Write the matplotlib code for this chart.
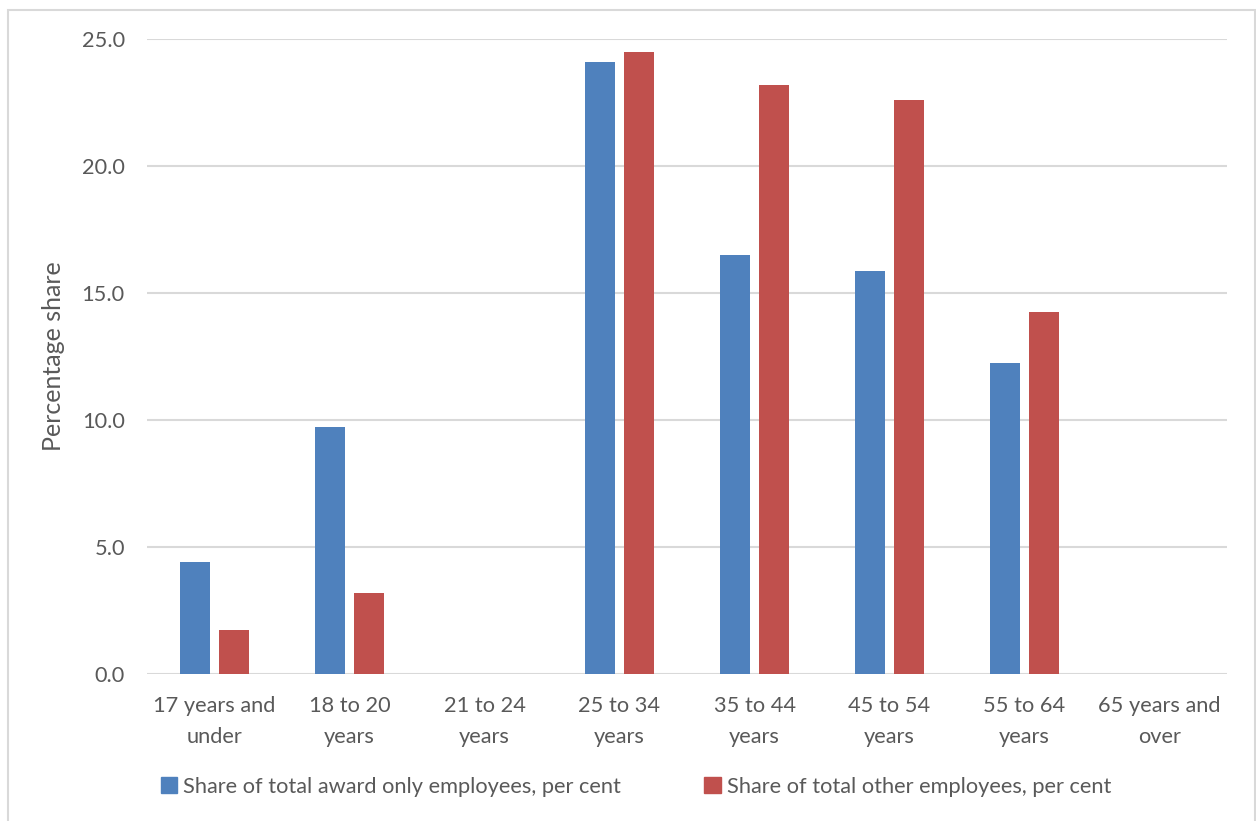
import matplotlib
matplotlib.use("Agg")
import matplotlib.pyplot as plt
import numpy as np
from matplotlib.patches import Rectangle, Patch

# data
categories = ["17 years and\nunder", "18 to 20\nyears", "21 to 24\nyears", "25 to 34\nyears",
              "35 to 44\nyears", "45 to 54\nyears", "55 to 64\nyears", "65 years and\nover"]
award_only = [4.41, 9.74, 0.0, 24.09, 16.51, 15.86, 12.25, 0.0]
other_emp = [1.75, 3.19, 0.0, 24.47, 23.19, 22.60, 14.25, 0.0]
series_names = ["Share of total award only employees, per cent",
                "Share of total other employees, per cent"]

BLUE = "#4F81BD"
RED = "#C0504D"
TXT = "#595959"
GRID = "#D9D9D9"
FS = 15.7

plt.rcParams.update({"font.family": ["Lato", "DejaVu Sans"], "font.size": FS})

W, H = 1256, 821
fig = plt.figure(figsize=(W / 100, H / 100), dpi=100)
ax = fig.add_axes([147 / W, 1 - 674 / H, (1227 - 147) / W, (674 - 39) / H])

x = np.arange(len(categories))
bw = 0.222
ax.bar(x - 0.141, award_only, bw, color=BLUE, zorder=3)
ax.bar(x + 0.141, other_emp, bw, color=RED, zorder=3)

ax.set_xlim(-0.5, len(categories) - 0.5)
ax.set_ylim(0, 25)
ax.set_yticks(np.arange(0, 26, 5))
ax.set_yticklabels([f"{v:.1f}" for v in np.arange(0, 26, 5)])
ax.set_xticks(x)
ax.set_xticklabels(categories, linespacing=1.7)
ax.tick_params(axis="y", length=0, pad=16, labelcolor=TXT, labelsize=FS)
ax.tick_params(axis="x", length=0, pad=15.5, labelcolor=TXT, labelsize=FS)
ax.grid(axis="y", color=GRID, lw=1.5, zorder=0)
for s in ax.spines.values():
    s.set_visible(False)
ax.set_ylabel("Percentage share", color=TXT, fontsize=18, labelpad=12)

handles = [Patch(color=BLUE), Patch(color=RED)]
fig.legend(handles, series_names, loc="center", bbox_to_anchor=(636 / W, 1 - 787 / H),
           ncol=2, frameon=False, fontsize=FS, labelcolor=TXT,
           handlelength=0.75, handleheight=0.75, handletextpad=0.3, columnspacing=3.8)

# light chart border
fig.patches.append(Rectangle((7.5 / W, -0.05), (1254.5 - 7.5) / W, 1.05 - 10.5 / H,
                             transform=fig.transFigure, fill=False,
                             edgecolor="#D9D9D9", lw=1.5))

fig.savefig("out.png", dpi=100)
